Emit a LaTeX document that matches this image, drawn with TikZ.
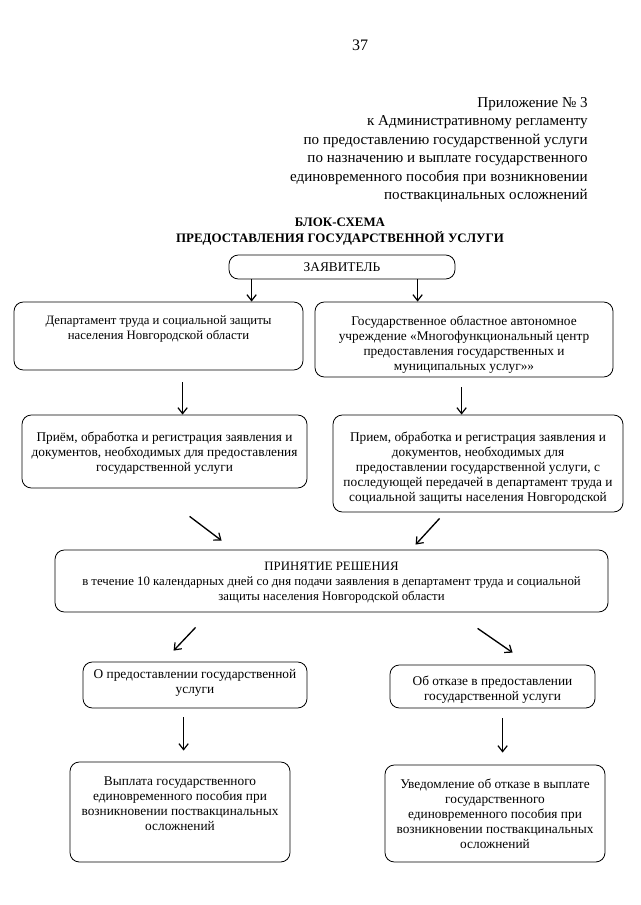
\documentclass[tikz,border=0pt]{standalone}
\usepackage{fontspec}
\setmainfont{Liberation Serif}
\usetikzlibrary{arrows.meta,fit,calc}
\begin{document}
\begin{tikzpicture}[x=0.75pt,y=-0.75pt,
  box/.style={draw, rounded corners=7pt, line width=0.6pt, inner sep=0pt},
  txt/.style={font=\fontsize{10}{11.25}\selectfont, align=center, inner sep=0pt, anchor=north},
  smalltxt/.style={txt, font=\fontsize{9.6}{11.25}\selectfont},
  arr/.style={line width=1pt, -{Straight Barb[length=4.5pt,width=7pt,line width=0.9pt]}}]
\fill[white] (0,0) rectangle (640,905);
\useasboundingbox (0,0) rectangle (640,905);

\node[font=\fontsize{12}{13.7}\selectfont, inner sep=0pt] (pnum) at (360,45) {37};
\node[font=\fontsize{11.3}{13.9}\selectfont, align=right, anchor=north east, inner sep=0pt] (hdr) at (588,97)
  {Приложение №~3\\к Административному регламенту\\по предоставлению государственной услуги\\по назначению и выплате государственного\\единовременного пособия при возникновении\\поствакцинальных осложнений};
\node[font=\bfseries\fontsize{9.7}{12}\selectfont, align=center, anchor=north, inner sep=0pt] (title) at (340,218)
  {БЛОК-СХЕМА\\ПРЕДОСТАВЛЕНИЯ ГОСУДАРСТВЕННОЙ УСЛУГИ};

% boxes
\node[box, fit={(229,255) (455,279)}] (zayav) {};
\node[txt, anchor=center] (zayavT) at (zayav.center) {ЗАЯВИТЕЛЬ};

\node[box, fit={(14,302) (303,370)}] (dept) {};
\node[smalltxt] (deptT) at ($(dept.north)+(0,14)$) {Департамент труда и социальной защиты\\населения Новгородской области};

\node[box, fit={(315,302) (613,377)}] (goau) {};
\node[txt] (goauT) at ($(goau.north)+(0,14)$) {Государственное областное автономное\\учреждение «Многофункциональный центр\\предоставления государственных и\\муниципальных услуг»»};

\node[box, fit={(22,415) (307,488)}] (priemL) {};
\node[txt] (priemLT) at ($(priemL.north)+(0,17)$) {Приём, обработка и регистрация заявления и\\документов, необходимых для предоставления\\государственной услуги};

\node[box, fit={(333,415) (623,512)}] (priemR) {};
\node[txt] (priemRT) at ($(priemR.north)+(0,17)$) {Прием, обработка и регистрация заявления и\\документов, необходимых для\\предоставлении государственной услуги, с\\последующей передачей в департамент труда и\\социальной защиты населения Новгородской};

\node[box, fit={(55,550) (608,612)}] (decision) {};
\node[smalltxt] (decisionT) at ($(decision.north)+(0,12)$) {ПРИНЯТИЕ РЕШЕНИЯ\\в течение 10 календарных дней со дня подачи заявления в департамент труда и социальной\\защиты населения Новгородской области};

\node[box, fit={(83,662) (307,708)}] (grant) {};
\node[txt] (grantT) at ($(grant.north)+(0,7)$) {О предоставлении государственной\\услуги};

\node[box, fit={(390,665) (595,708)}] (refuse) {};
\node[txt] (refuseT) at ($(refuse.north)+(0,11)$) {Об отказе в предоставлении\\государственной услуги};

\node[box, fit={(70,762) (290,862)}] (pay) {};
\node[txt] (payT) at ($(pay.north)+(0,15)$) {Выплата государственного\\единовременного пособия при\\возникновении поствакцинальных\\осложнений};

\node[box, fit={(385,765) (605,862)}] (notify) {};
\node[txt] (notifyT) at ($(notify.north)+(0,14)$) {Уведомление об отказе в выплате\\государственного\\единовременного пособия при\\возникновении поствакцинальных\\осложнений};

% connectors
\coordinate (a1) at ($(zayav.south west)+(23,0)$);
\draw[arr] (a1) -- (a1 |- dept.north);
\coordinate (a2) at ($(zayav.south west)+(189,0)$);
\draw[arr] (a2) -- (a2 |- goau.north);
\coordinate (a3) at ($(dept.south west)+(169,12)$);
\draw[arr] (a3) -- (a3 |- priemL.north);
\coordinate (a4) at ($(goau.south west)+(147,10)$);
\draw[arr] (a4) -- (a4 |- priemR.north);

\coordinate (a5s) at ($(priemL.south west)+(168,28)$);
\coordinate (a5e) at ($(decision.north west)+(167,-9)$);
\draw[arr] (a5s) -- (a5e);
\coordinate (a6s) at ($(priemR.south west)+(107,6)$);
\coordinate (a6e) at ($(decision.north west)+(361,-5)$);
\draw[arr] (a6s) -- (a6e);

\coordinate (a7s) at ($(decision.south west)+(141,15)$);
\coordinate (a7e) at ($(grant.north west)+(91,-11)$);
\draw[arr] (a7s) -- (a7e);
\coordinate (a8s) at ($(decision.south west)+(423,16)$);
\coordinate (a8e) at ($(refuse.north west)+(123,-12)$);
\draw[arr] (a8s) -- (a8e);

\coordinate (a9s) at ($(grant.south west)+(101,9)$);
\coordinate (a9e) at ($(a9s |- pay.north)+(0,-11)$);
\draw[arr] (a9s) -- (a9e);
\coordinate (a10s) at ($(refuse.south west)+(113,10)$);
\coordinate (a10e) at ($(a10s |- notify.north)+(0,-12)$);
\draw[arr] (a10s) -- (a10e);
\end{tikzpicture}
\end{document}
